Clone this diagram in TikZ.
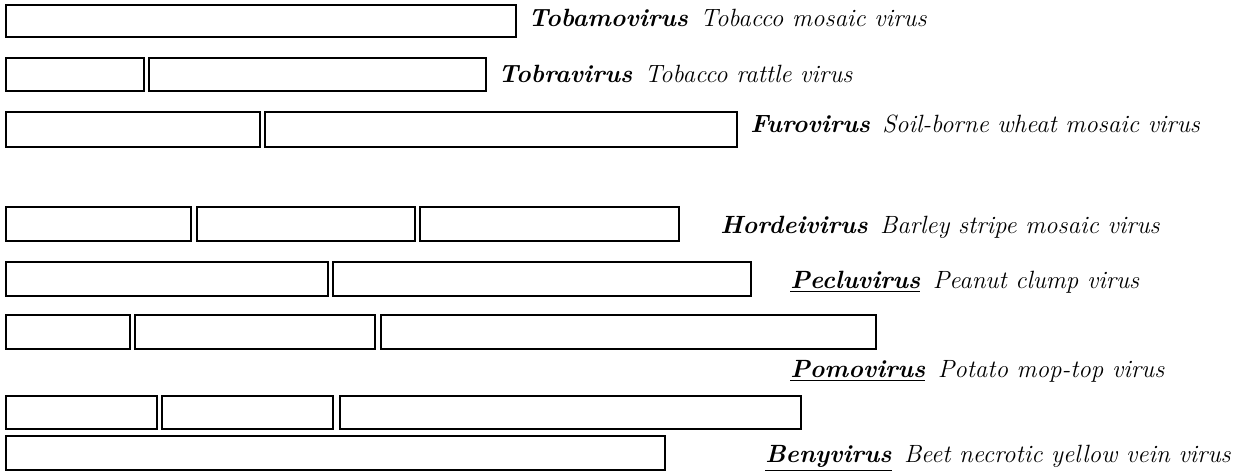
\documentclass[tikz,border=0pt]{standalone}
\usetikzlibrary{positioning}

\tikzset{
  rna/.style={draw=black,line width=1.4pt},
  genus/.style={anchor=base west,inner sep=0pt,font=\fontsize{14.2}{16}\selectfont\itshape}
}
\newcommand{\gname}[1]{\textbf{#1}\enspace}

\begin{document}
\begin{tikzpicture}[x=0.02cm,y=-0.02cm]
  \useasboundingbox (0,0) rectangle (1244,475);
  % Tobamovirus
  \draw[rna] (6,5) rectangle (516,37);
  \node[genus] (tobamo) at (528,27) {\gname{Tobamovirus}Tobacco mosaic virus};
  % Tobravirus
  \draw[rna] (6,58) rectangle (144,91);
  \draw[rna] (149,58) rectangle (486,91);
  \node[genus] (tobra) at (498,83) {\gname{Tobravirus}Tobacco rattle virus};
  % Furovirus
  \draw[rna] (6,112) rectangle (260,147);
  \draw[rna] (265,112) rectangle (737,147);
  \node[genus] (furo) at (750,133) {\gname{Furovirus}Soil-borne wheat mosaic virus};

  % Hordeivirus
  \draw[rna] (6,207) rectangle (191,241);
  \draw[rna] (197,207) rectangle (415,241);
  \draw[rna] (420,207) rectangle (679,241);
  \node[genus] (hordei) at (720,234) {\gname{Hordeivirus}Barley stripe mosaic virus};
  % Pecluvirus
  \draw[rna] (6,262) rectangle (328,296);
  \draw[rna] (333,262) rectangle (751,296);
  \node[genus] (peclu) at (790,289) {\gname{\underline{Pecluvirus}}Peanut clump virus};
  % Pomovirus
  \draw[rna] (6,315) rectangle (130,349);
  \draw[rna] (135,315) rectangle (375,349);
  \draw[rna] (381,315) rectangle (876,349);
  \node[genus] (pomo) at (790,378) {\gname{\underline{Pomovirus}}Potato mop-top virus};
  % Benyvirus
  \draw[rna] (6,396) rectangle (157,429);
  \draw[rna] (162,396) rectangle (333,429);
  \draw[rna] (340,396) rectangle (801,429);
  \draw[rna] (6,436) rectangle (665,470);
  \node[genus] (beny) at (765,463) {\gname{\underline{Benyvirus}}Beet necrotic yellow vein virus};
\end{tikzpicture}
\end{document}
